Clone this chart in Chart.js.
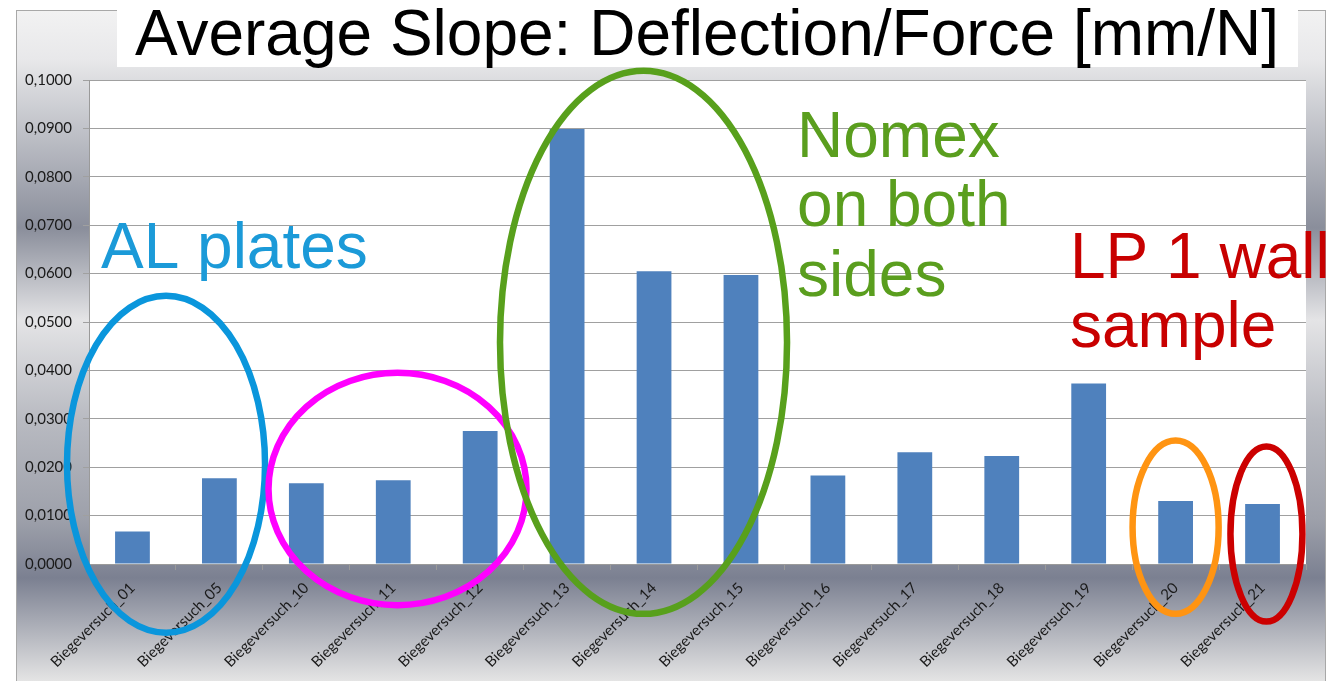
<!DOCTYPE html>
<html>
<head>
<meta charset="utf-8">
<script src="https://cdn.jsdelivr.net/npm/chart.js@4.4.1/dist/chart.umd.min.js"></script>
<style>
  html, body { margin: 0; padding: 0; background: #ffffff; overflow: hidden; }
  #wrap { width: 1334px; height: 681px; position: relative; }
</style>
</head>
<body>
<div id="wrap"><canvas id="c" width="1334" height="681"></canvas></div>
<script>
// Bending tests and their average deflection/force slope
const categories = [
  'Biegeversuch_01', 'Biegeversuch_05', 'Biegeversuch_10', 'Biegeversuch_11',
  'Biegeversuch_12', 'Biegeversuch_13', 'Biegeversuch_14', 'Biegeversuch_15',
  'Biegeversuch_16', 'Biegeversuch_17', 'Biegeversuch_18', 'Biegeversuch_19',
  'Biegeversuch_20', 'Biegeversuch_21'
];
const slopes = [
  0.0067, 0.0177, 0.0167, 0.0173, 0.0275, 0.0899, 0.0605,
  0.0597, 0.0183, 0.0231, 0.0223, 0.0373, 0.0130, 0.0124
];
const yTicks = [0, 0.01, 0.02, 0.03, 0.04, 0.05, 0.06, 0.07, 0.08, 0.09, 0.10];
const chartTitle = 'Average Slope: Deflection/Force [mm/N]';

// Group outlines: centre in (category index, value), radii in (categories, value)
const groupRings = [
  { color: '#0A96DC', cx: 0.386,  cy: 0.0206, rx: 1.139, ry: 0.0348 },
  { color: '#FF00FF', cx: 3.049,  cy: 0.0155, rx: 1.484, ry: 0.0240 },
  { color: '#58A01C', cx: 5.879,  cy: 0.0458, rx: 1.651, ry: 0.0561 },
  { color: '#FF9412', cx: 12.0,   cy: 0.0076, rx: 0.495, ry: 0.0179 },
  { color: '#CC0000', cx: 13.045, cy: 0.0062, rx: 0.414, ry: 0.0181 }
];
// Group notes: left edge in category index, one baseline value per line
const groupNotes = [
  { color: '#1B9AD8', x: -0.362, lines: ['AL plates'], at: [0.0612] },
  { color: '#5A9E1E', x: 7.645,  lines: ['Nomex', 'on both', 'sides'], at: [0.0841, 0.0698, 0.0554] },
  { color: '#C80000', x: 10.785, lines: ['LP 1 wall', 'sample'], at: [0.0591, 0.0448] }
];

const fmt = v => v.toFixed(4).replace('.', ',');

const framePlugin = {
  id: 'frame',
  beforeDraw(chart) {
    const ctx = chart.ctx, a = chart.chartArea;
    const H = chart.height;
    ctx.save();
    ctx.fillStyle = '#ffffff';
    ctx.fillRect(0, 0, chart.width, H);
    // metallic frame
    const g = ctx.createLinearGradient(0, 0, 0, H);
    g.addColorStop(0 / H, '#f4f4f4');
    g.addColorStop(60 / H, '#e8e8ea');
    g.addColorStop(90 / H, '#d6d7db');
    g.addColorStop(228 / H, '#8a8e9b');
    g.addColorStop(320 / H, '#e4e4e6');
    g.addColorStop(420 / H, '#b8bac1');
    g.addColorStop(520 / H, '#9da0aa');
    g.addColorStop(578 / H, '#7b8091');
    g.addColorStop(1, '#e4e4e4');
    ctx.fillStyle = g;
    ctx.fillRect(16, 10, 1310, H);
    ctx.strokeStyle = '#a8a8a8';
    ctx.lineWidth = 1;
    ctx.strokeRect(16.5, 10.5, 1309, H);
    // plot area
    ctx.fillStyle = '#ffffff';
    ctx.fillRect(a.left, a.top, a.right - a.left, a.bottom - a.top);
    // title box and title
    ctx.fillRect(117, 0, 1181, 67);
    ctx.fillStyle = '#000000';
    ctx.font = '64px "Liberation Sans", Arial, sans-serif';
    ctx.textAlign = 'center';
    ctx.textBaseline = 'alphabetic';
    ctx.fillText(chartTitle, 707, 55);
    ctx.restore();
  },
  afterDatasetsDraw(chart) {
    const ctx = chart.ctx;
    const xs = chart.scales.x, ys = chart.scales.y;
    const step = xs.getPixelForValue(1) - xs.getPixelForValue(0);
    const unit = ys.getPixelForValue(0) - ys.getPixelForValue(1);
    ctx.save();
    ctx.lineWidth = 6.5;
    groupRings.forEach(r => {
      ctx.beginPath();
      ctx.strokeStyle = r.color;
      ctx.ellipse(xs.getPixelForValue(0) + r.cx * step, ys.getPixelForValue(r.cy),
                  r.rx * step, r.ry * unit, 0, 0, Math.PI * 2);
      ctx.stroke();
    });
    ctx.font = '64px "Liberation Sans", Arial, sans-serif';
    ctx.textAlign = 'left';
    ctx.textBaseline = 'alphabetic';
    groupNotes.forEach(n => {
      ctx.fillStyle = n.color;
      n.lines.forEach((t, i) => {
        ctx.fillText(t, xs.getPixelForValue(0) + n.x * step, ys.getPixelForValue(n.at[i]));
      });
    });
    ctx.restore();
  }
};

new Chart(document.getElementById('c'), {
  type: 'bar',
  data: {
    labels: categories,
    datasets: [{
      data: slopes,
      backgroundColor: '#4F81BD',
      borderWidth: 0,
      categoryPercentage: 1.0,
      barPercentage: 0.4
    }]
  },
  options: {
    responsive: false,
    animation: false,
    events: [],
    layout: { padding: { top: 80, right: 28, left: 0, bottom: 0 } },
    plugins: { legend: { display: false }, title: { display: false }, tooltip: { enabled: false } },
    scales: {
      x: {
        grid: { display: true, drawOnChartArea: false, offset: true, tickLength: 6, color: '#9a9a9a' },
        border: { display: true, color: '#9a9a9a', width: 1 },
        ticks: {
          color: '#1a1a1a',
          font: { family: 'Lato', size: 15 },
          minRotation: 45, maxRotation: 45, autoSkip: false, padding: 9
        },
        afterFit(s) { s.height = 117; }
      },
      y: {
        min: 0, max: 0.1,
        afterBuildTicks(s) { s.ticks = yTicks.map(v => ({ value: v })); },
        grid: { color: '#a0a0a0', lineWidth: 1, tickLength: 6 },
        border: { display: true, color: '#9a9a9a', width: 1 },
        ticks: {
          color: '#1a1a1a',
          font: { family: 'Lato', size: 15 },
          padding: 11,
          callback: v => fmt(v)
        },
        afterFit(s) { s.width = 89; }
      }
    }
  },
  plugins: [framePlugin]
});
</script>
</body>
</html>
